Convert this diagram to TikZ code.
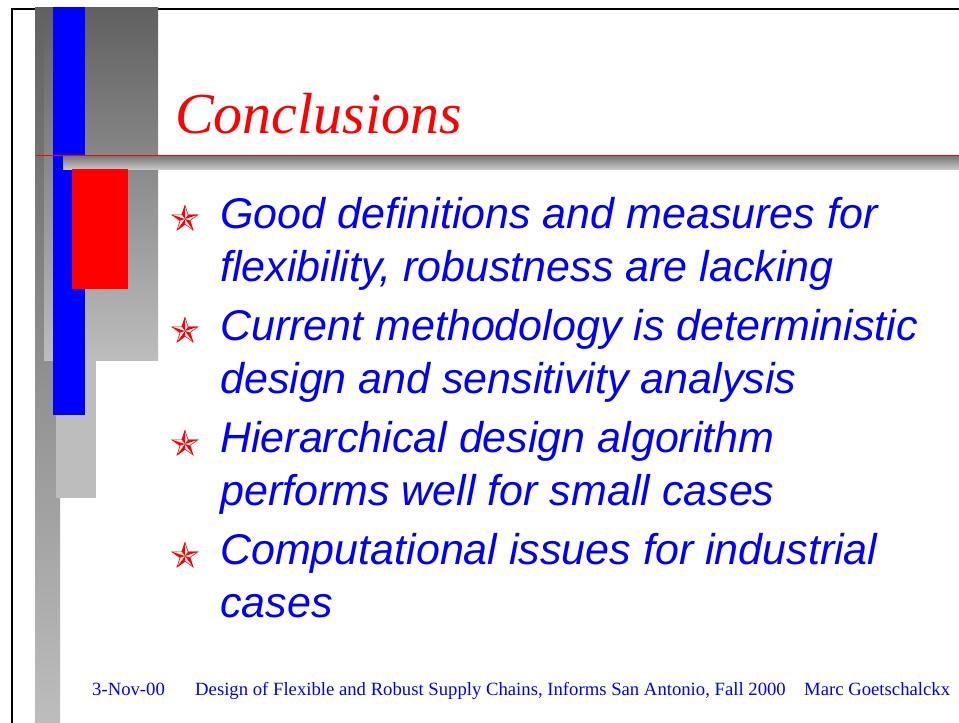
\documentclass[tikz,border=0pt]{standalone}
\usepackage{fontspec}
\setmainfont{Liberation Serif}
\newfontfamily\arialfont{Liberation Sans}
\usetikzlibrary{shapes.geometric}

\definecolor{slideblue}{RGB}{0,0,255}
\definecolor{slidered}{RGB}{255,0,0}
\definecolor{grayA}{gray}{0.38}
\definecolor{grayB}{gray}{0.74}

\tikzset{
  bullet/.style={
    star,
    star points=5,
    star point ratio=2.6,
    minimum size=27pt,
    inner sep=0pt,
    draw=slidered,
    fill=white,
    line width=0.6pt
  },
  item/.style={
    anchor=base west,
    inner sep=0pt,
    align=left,
    text=slideblue,
    font=\arialfont\itshape\fontsize{43}{53}\selectfont
  },
  footer/.style={
    anchor=base west,
    inner sep=0pt,
    text=slideblue,
    font=\fontsize{18.7}{19}\selectfont
  },
}

\begin{document}
\begin{tikzpicture}[x=1pt, y=-1pt]
  \useasboundingbox (0,0) rectangle (959,723);
  \fill[white] (0,0) rectangle (959,723);
  \draw[line width=2pt] (11.75,723) -- (11.75,9) -- (959,9);
  \shade[top color=grayA, bottom color=grayB] (35,7) rectangle (60,723);
  \fill[grayB] (56,155) rectangle (96,498);
  \shade[top color=gray!75!black, bottom color=grayB] (44,7) rectangle (158,360);
  \fill[slideblue] (53,7) rectangle (85,415);
  \shade[top color=gray!90!black, bottom color=gray!45] (63,155) rectangle (959,169);
  \fill[slidered] (72,169) rectangle (128,289);
  \draw[slidered, line width=1.3pt] (36,155.5) -- (959,155.5);

  \node[anchor=base west, inner sep=0pt, text=slidered,
        font=\itshape\fontsize{58}{58}\selectfont] (title) at (175,133) {Conclusions};

  \foreach \n/\y in {1/219, 2/331, 3/444, 4/556} {
    \node[bullet] (s\n) at (185,\y) {};
    \foreach \i in {1,...,5}
      \fill[slidered] (s\n.center) -- (s\n.outer point \i) -- (s\n.inner point \i) -- cycle;
  }
  \node[item] (b1) at (220,281) {Good definitions and measures for\\flexibility, robustness are lacking};
  \node[item] (b2) at (220,393) {Current methodology is deterministic\\design and sensitivity analysis};
  \node[item] (b3) at (220,505) {Hierarchical design algorithm\\performs well for small cases};
  \node[item] (b4) at (220,617) {Computational issues for industrial\\cases};

  \node[footer] (date) at (92,695) {3-Nov-00};
  \node[footer] (event) at (195,695) {Design of Flexible and Robust Supply Chains, Informs San Antonio, Fall 2000};
  \node[footer] (author) at (804,695) {Marc Goetschalckx};
\end{tikzpicture}
\end{document}
